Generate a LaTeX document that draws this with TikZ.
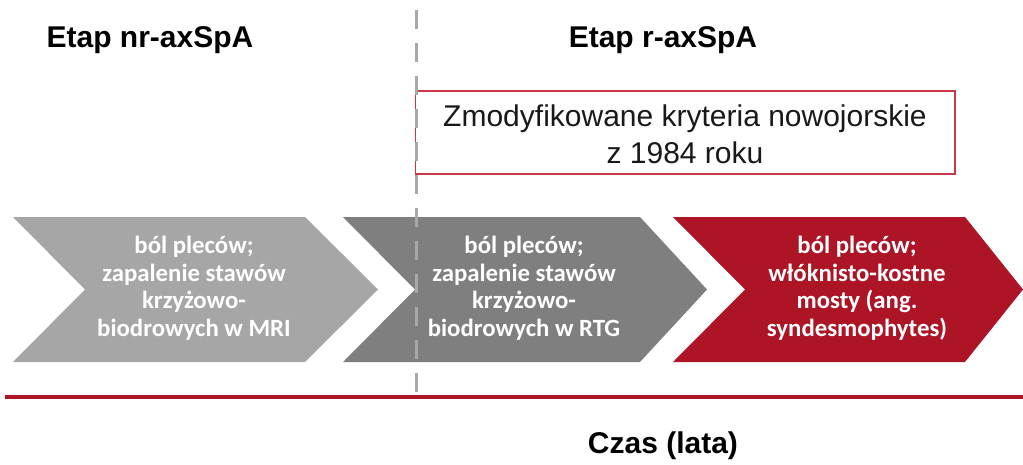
\documentclass[tikz,border=0pt]{standalone}
\usepackage{fontspec}
\setmainfont{Liberation Sans}
\newfontfamily\chevfont{Carlito}
\definecolor{chevlight}{HTML}{A6A6A6}
\definecolor{chevdark}{HTML}{7F7F7F}
\definecolor{chevred}{HTML}{AD1426}
\definecolor{boxred}{HTML}{C9374A}
\definecolor{dashgray}{HTML}{A8A8A8}
\tikzset{
  title/.style={font=\fontsize{30}{34}\selectfont\bfseries, text=black, inner sep=0pt, anchor=base},
  chevtext/.style={font=\chevfont\fontsize{24.8}{27.5}\selectfont\bfseries, text=white, align=center, inner sep=0pt},
  boxtext/.style={font=\fontsize{30}{37}\selectfont, text=black!90, align=center, inner sep=0pt},
}
\begin{document}
\begin{tikzpicture}[x=1pt,y=-1pt]
\useasboundingbox (0,0) rectangle (1023,464);
% titles
\node[title] (t1) at (150,47) {Etap nr-axSpA};
\node[title] (t2) at (663,47) {Etap r-axSpA};
% criteria box
\draw[boxred, line width=1.5pt, fill=white] (415.5,91) rectangle (955,174);
\node[boxtext] (crit) at (685,134) {Zmodyfikowane kryteria nowojorskie\\z 1984 roku};
% chevrons
\fill[chevlight] (13,217) -- (305,217) -- (378,289.5) -- (305,362) -- (13,362) -- (85,289.5) -- cycle;
\fill[chevdark] (343,217) -- (640,217) -- (707,289.5) -- (640,362) -- (343,362) -- (415,289.5) -- cycle;
\fill[chevred] (673,217) -- (965,217) -- (1023,289.5) -- (965,362) -- (673,362) -- (745,289.5) -- cycle;
% dashed divider
\coordinate (dtop) at (416,10);
\coordinate (dbot) at (416,394);
\draw[dashgray, line width=3pt, dash pattern=on 19pt off 14pt] (dtop) -- (dbot);
% chevron texts
\node[chevtext] (c1) at (194,288) {ból pleców;\\zapalenie stawów\\krzyżowo-\\biodrowych w MRI};
\node[chevtext] (c2) at (524,288) {ból pleców;\\zapalenie stawów\\krzyżowo-\\biodrowych w RTG};
\node[chevtext] (c3) at (857,288) {ból pleców;\\włóknisto-kostne\\mosty (ang.\\syndesmophytes)};
% time axis
\coordinate (aleft) at (5,397);
\coordinate (aright) at (1023,397);
\draw[chevred, line width=4pt] (aleft) -- (aright);
\node[title] (czas) at (663,453) {Czas (lata)};
\end{tikzpicture}
\end{document}
